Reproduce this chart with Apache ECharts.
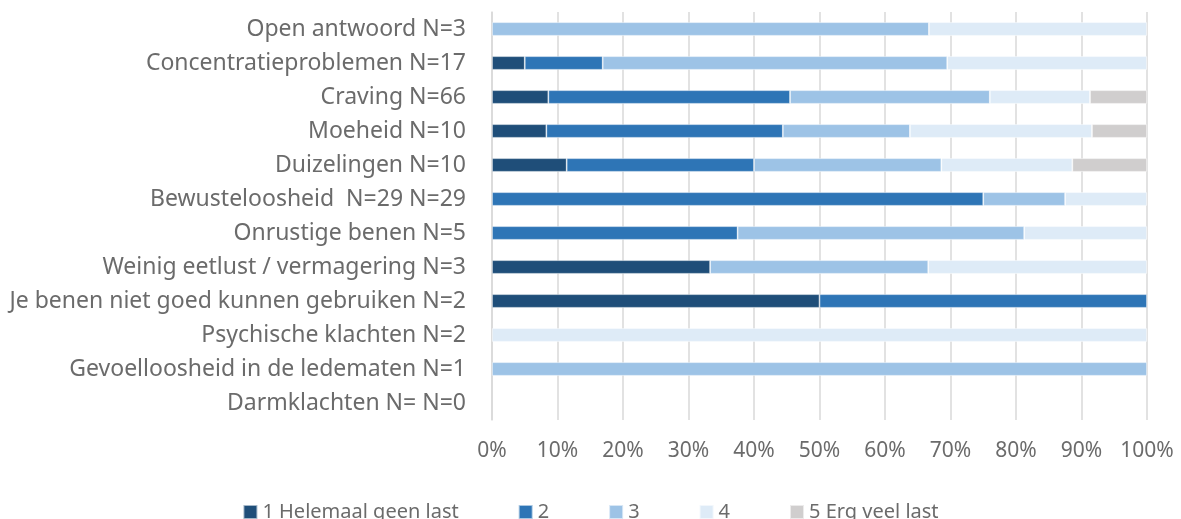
<!DOCTYPE html>
<html>
<head>
<meta charset="utf-8">
<script src="https://cdn.jsdelivr.net/npm/echarts@6/dist/echarts.min.js"></script>
<style>
  html, body { margin: 0; padding: 0; background: #fff; }
  #chart { width: 1181px; height: 519px; }
</style>
</head>
<body>
<div id="chart"></div>
<script>
// categorieen, van boven naar beneden
var categories = [
  'Open antwoord N=3',
  'Concentratieproblemen N=17',
  'Craving N=66',
  'Moeheid N=10',
  'Duizelingen N=10',
  'Bewusteloosheid  N=29 N=29',
  'Onrustige benen N=5',
  'Weinig eetlust / vermagering N=3',
  'Je benen niet goed kunnen gebruiken N=2',
  'Psychische klachten N=2',
  'Gevoelloosheid in de ledematen N=1',
  'Darmklachten N= N=0'
];

// percentages per antwoord
var level1 = [0, 5.0, 8.6, 8.3, 11.4, 0, 0, 33.3, 50, 0, 0, 0];
var level2 = [0, 11.9, 36.9, 36.1, 28.6, 75, 37.5, 0, 50, 0, 0, 0];
var level3 = [66.7, 52.6, 30.5, 19.4, 28.6, 12.5, 43.75, 33.3, 0, 0, 100, 0];
var level4 = [33.3, 30.5, 15.3, 27.8, 20.0, 12.5, 18.75, 33.4, 0, 100, 0, 0];
var level5 = [0, 0, 8.7, 8.4, 11.4, 0, 0, 0, 0, 0, 0, 0];

var levelNames = ['1 Helemaal geen last', '2', '3', '4', '5 Erg veel last'];
var levelColors = ['#1f4e79', '#2e75b6', '#9dc3e6', '#deebf7', '#d0cece'];
var levels = [level1, level2, level3, level4, level5];

var textColor = '#6b6b6b';
var fontName = 'Noto Sans';

var series = levels.map(function (vals, i) {
  return {
    name: levelNames[i],
    type: 'bar',
    stack: 'totaal',
    barWidth: '40%',
    data: vals.map(function (v) { return v === 0 ? null : v; }),
    itemStyle: {
      color: levelColors[i],
      borderColor: 'rgba(255,255,255,0.6)',
      borderWidth: 0.8
    }
  };
});

var chart = echarts.init(document.getElementById('chart'));
chart.setOption({
  animation: false,
  textStyle: { fontFamily: fontName },
  grid: { left: 492, right: 34, top: 12, bottom: 99 },
  legend: {
    data: levelNames,
    top: 497,
    left: 'center',
    itemWidth: 14,
    itemHeight: 14,
    itemGap: 59,
    icon: 'rect',
    textStyle: { color: textColor, fontSize: 20, fontFamily: fontName }
  },
  xAxis: {
    type: 'value',
    min: 0,
    max: 100,
    interval: 10,
    axisLine: { show: false },
    axisTick: { show: false },
    axisLabel: {
      formatter: '{value}%',
      color: textColor,
      fontSize: 21,
      margin: 21
    },
    splitLine: { lineStyle: { color: '#d9d9d9', width: 1.5 } }
  },
  yAxis: {
    type: 'category',
    inverse: true,
    data: categories,
    axisLine: { show: true, lineStyle: { color: '#d9d9d9', width: 1.5 } },
    axisTick: { show: false },
    axisLabel: {
      color: textColor,
      fontSize: 23,
      margin: 26
    }
  },
  series: series
});
</script>
</body>
</html>
